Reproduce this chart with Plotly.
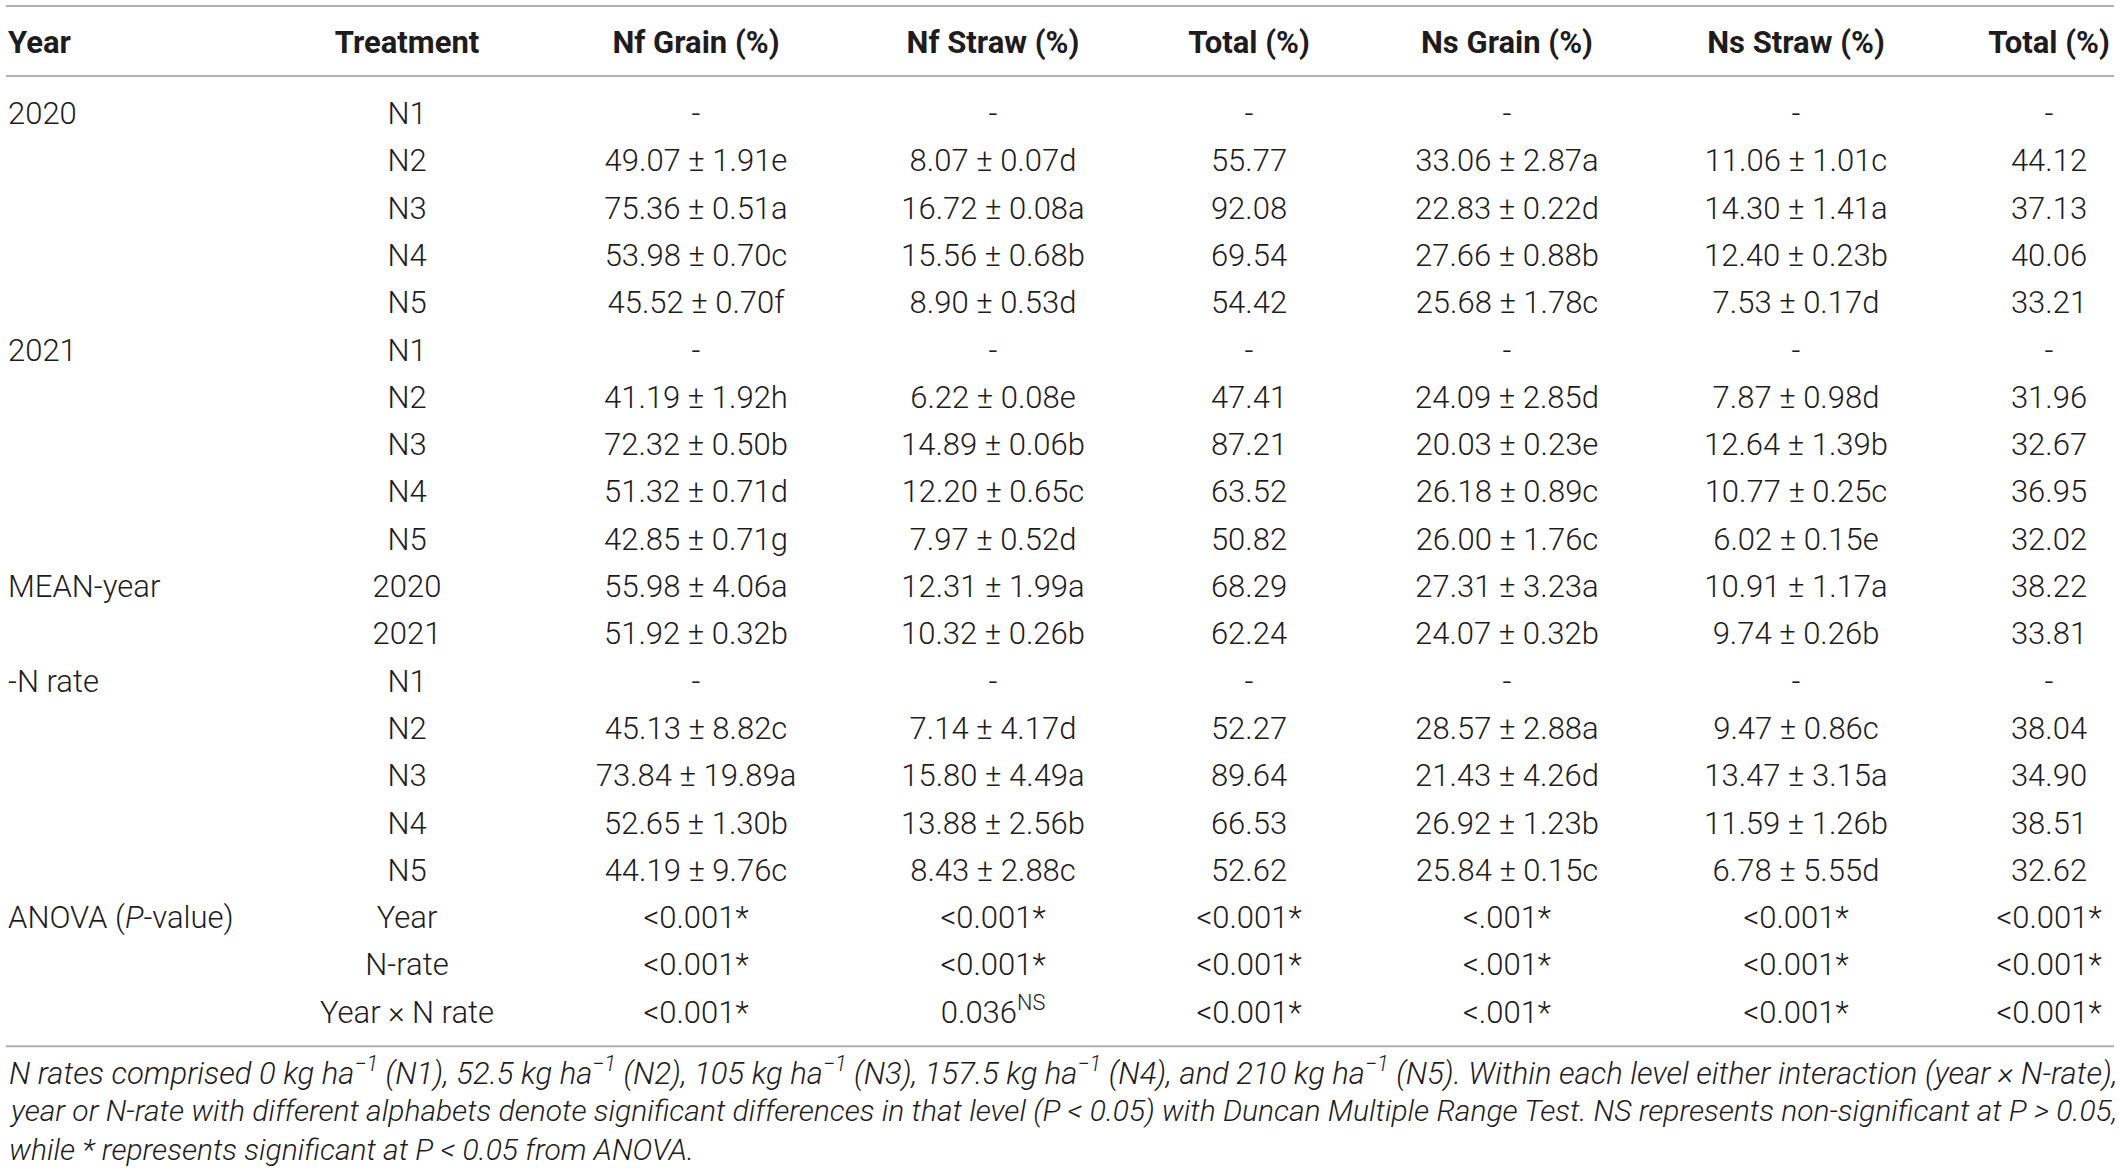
import plotly.graph_objects as go

# table contents
headers = ["Year", "Treatment", "Nf Grain (%)", "Nf Straw (%)", "Total (%)",
           "Ns Grain (%)", "Ns Straw (%)", "Total (%)"]

year_col = ["2020", "", "", "", "",
            "2021", "", "", "", "",
            "MEAN-year", "",
            "-N rate", "", "", "", "",
            "ANOVA (<i>P</i>-value)", "", ""]

treatment = ["N1", "N2", "N3", "N4", "N5",
             "N1", "N2", "N3", "N4", "N5",
             "2020", "2021",
             "N1", "N2", "N3", "N4", "N5",
             "Year", "N-rate", "Year × N rate"]

nf_grain = ["-", "49.07 ± 1.91e", "75.36 ± 0.51a", "53.98 ± 0.70c", "45.52 ± 0.70f",
            "-", "41.19 ± 1.92h", "72.32 ± 0.50b", "51.32 ± 0.71d", "42.85 ± 0.71g",
            "55.98 ± 4.06a", "51.92 ± 0.32b",
            "-", "45.13 ± 8.82c", "73.84 ± 19.89a", "52.65 ± 1.30b", "44.19 ± 9.76c",
            "&lt;0.001*", "&lt;0.001*", "&lt;0.001*"]

nf_straw = ["-", "8.07 ± 0.07d", "16.72 ± 0.08a", "15.56 ± 0.68b", "8.90 ± 0.53d",
            "-", "6.22 ± 0.08e", "14.89 ± 0.06b", "12.20 ± 0.65c", "7.97 ± 0.52d",
            "12.31 ± 1.99a", "10.32 ± 0.26b",
            "-", "7.14 ± 4.17d", "15.80 ± 4.49a", "13.88 ± 2.56b", "8.43 ± 2.88c",
            "&lt;0.001*", "&lt;0.001*", "0.036<sup>NS</sup>"]

nf_total = ["-", "55.77", "92.08", "69.54", "54.42",
            "-", "47.41", "87.21", "63.52", "50.82",
            "68.29", "62.24",
            "-", "52.27", "89.64", "66.53", "52.62",
            "&lt;0.001*", "&lt;0.001*", "&lt;0.001*"]

ns_grain = ["-", "33.06 ± 2.87a", "22.83 ± 0.22d", "27.66 ± 0.88b", "25.68 ± 1.78c",
            "-", "24.09 ± 2.85d", "20.03 ± 0.23e", "26.18 ± 0.89c", "26.00 ± 1.76c",
            "27.31 ± 3.23a", "24.07 ± 0.32b",
            "-", "28.57 ± 2.88a", "21.43 ± 4.26d", "26.92 ± 1.23b", "25.84 ± 0.15c",
            "&lt;.001*", "&lt;.001*", "&lt;.001*"]

ns_straw = ["-", "11.06 ± 1.01c", "14.30 ± 1.41a", "12.40 ± 0.23b", "7.53 ± 0.17d",
            "-", "7.87 ± 0.98d", "12.64 ± 1.39b", "10.77 ± 0.25c", "6.02 ± 0.15e",
            "10.91 ± 1.17a", "9.74 ± 0.26b",
            "-", "9.47 ± 0.86c", "13.47 ± 3.15a", "11.59 ± 1.26b", "6.78 ± 5.55d",
            "&lt;0.001*", "&lt;0.001*", "&lt;0.001*"]

ns_total = ["-", "44.12", "37.13", "40.06", "33.21",
            "-", "31.96", "32.67", "36.95", "32.02",
            "38.22", "33.81",
            "-", "38.04", "34.90", "38.51", "32.62",
            "&lt;0.001*", "&lt;0.001*", "&lt;0.001*"]

footnote = [
    "N rates comprised 0 kg ha<sup>−1</sup> (N1), 52.5 kg ha<sup>−1</sup> (N2), 105 kg ha<sup>−1</sup> (N3), "
    "157.5 kg ha<sup>−1</sup> (N4), and 210 kg ha<sup>−1</sup> (N5). Within each level either interaction (year × N-rate),",
    "year or N-rate with different alphabets denote significant differences in that level (P &lt; 0.05) "
    "with Duncan Multiple Range Test. NS represents non-significant at P &gt; 0.05,",
    "while * represents significant at P &lt; 0.05 from ANOVA.",
]

columns = [year_col, treatment, nf_grain, nf_straw, nf_total, ns_grain, ns_straw, ns_total]

# layout helpers (pixel x of each column, rows are indices)
col_x = [8, 407, 696, 993, 1249, 1507, 1796, 2049]
note_size = [31, 30, 30]  # first line is justified in the original, so a touch wider
W, H = 2119, 1176
FONT = "Roboto"
TXT = "#1e1c1d"
LINE = "#b0b0b0"
SIZE = 31
SHIFT = 0.07

rows = list(range(len(treatment)))
header_row = -1.5

fig = go.Figure()

for i, col in enumerate(columns):
    pos = "middle right" if i == 0 else "middle center"
    keep = [r for r in rows if col[r]]
    fig.add_trace(go.Scatter(
        x=[col_x[i]] * len(keep), y=keep, text=[col[r] for r in keep], mode="text",
        textposition=pos,
        textfont=dict(family=FONT, size=SIZE, color=TXT, weight=300),
        hoverinfo="skip"))
    fig.add_trace(go.Scatter(
        x=[col_x[i]], y=[header_row], text=[headers[i]], mode="text",
        textposition=pos,
        textfont=dict(family=FONT, size=SIZE, color=TXT, weight=700),
        hoverinfo="skip"))

# rules: top, under header, bottom
for yy in [-2.26, -0.78, 19.73]:
    fig.add_shape(type="line", x0=6, x1=2114, y0=yy - SHIFT, y1=yy - SHIFT,
                  line=dict(color=LINE, width=2))

for k, line in enumerate(footnote):
    fig.add_annotation(x=7, y=20.26 + k * 0.83 - SHIFT, text=line, showarrow=False,
                       xanchor="left", yanchor="middle",
                       font=dict(family=FONT, size=note_size[k], color=TXT, weight=300,
                                 style="italic"))

fig.update_xaxes(range=[0, W], visible=False)
fig.update_yaxes(range=[(H - 113) / 47.3 - SHIFT, -113 / 47.3 - SHIFT], visible=False)
fig.update_layout(width=W, height=H, margin=dict(l=0, r=0, t=0, b=0),
                  plot_bgcolor="white", paper_bgcolor="white", showlegend=False)

fig.write_html("out.html", config={"displayModeBar": False},
               post_script="document.body.style.margin='0';")
